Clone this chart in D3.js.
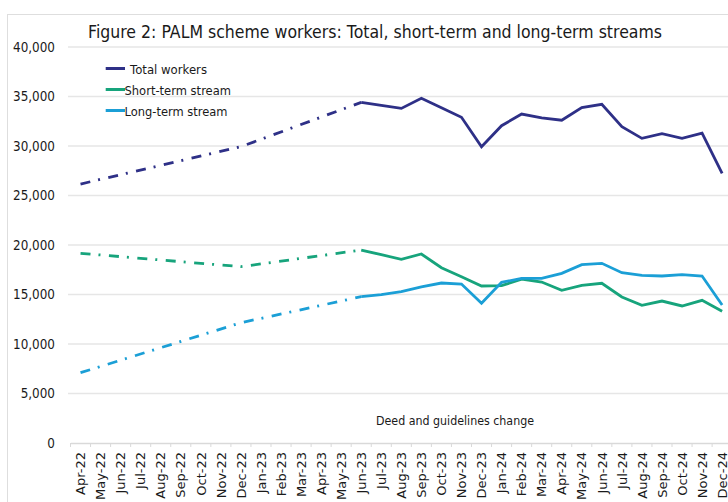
<!DOCTYPE html>
<html>
<head>
<meta charset="utf-8">
<script src="https://cdn.jsdelivr.net/npm/d3@7"></script>
<style>
  html, body { margin: 0; padding: 0; background: #ffffff; }
  svg { display: block; font-family: "DejaVu Sans", "Open Sans", sans-serif; }
</style>
</head>
<body>
<svg id="chart" width="728" height="502"></svg>
<script>
// ---------- data ----------
const months = ["Apr-22","May-22","Jun-22","Jul-22","Aug-22","Sep-22","Oct-22","Nov-22","Dec-22",
  "Jan-23","Feb-23","Mar-23","Apr-23","May-23","Jun-23","Jul-23","Aug-23","Sep-23","Oct-23",
  "Nov-23","Dec-23","Jan-24","Feb-24","Mar-24","Apr-24","May-24","Jun-24","Jul-24","Aug-24",
  "Sep-24","Oct-24","Nov-24","Dec-24"];

// Estimated period (Apr-22 .. Jun-23): only a few known points, joined by a dash-dot line
const totalEst = [26160, null, null, null, null, null, null, null, 29930,
  null, null, null, null, null, 34410];
const shortEst = [19160, null, null, null, null, null, null, null, 17810,
  null, null, null, null, null, 19490];
const longEst  = [7100, null, null, null, null, null, null, null, 12150,
  null, null, null, null, null, 14780];

// Monthly data (Jun-23 .. Dec-24)
const totalObs = [34410, 34100, 33800, 34820, 33860, 32900, 29930, 32050, 33230, 32830,
  32600, 33870, 34210, 31950, 30770, 31240, 30770, 31310, 27240];
const shortObs = [19490, 19020, 18550, 19090, 17710, 16800, 15860, 15890, 16560, 16260,
  15420, 15920, 16130, 14750, 13900, 14340, 13840, 14410, 13300];
const longObs  = [14780, 14980, 15280, 15760, 16160, 16060, 14110, 16230, 16630, 16630,
  17140, 18010, 18150, 17200, 16930, 16870, 17000, 16870, 13940];

const obsStart = 14; // index of Jun-23
const yTicks = [0, 5000, 10000, 15000, 20000, 25000, 30000, 35000, 40000];
const seriesNames = ["Total workers", "Short-term stream", "Long-term stream"];
const seriesColors = ["#2e3087", "#17a47c", "#1b9fd6"];
const titleText = "Figure 2: PALM scheme workers: Total, short-term and long-term streams";
const noteText = "Deed and guidelines change";

// ---------- layout ----------
const svg = d3.select("#chart");
const x = d3.scaleBand().domain(months).range([70.5, 70.5 + 33 * 20.05]).padding(0);
const xc = m => x(m) + x.bandwidth() / 2;
const y = d3.scaleLinear().domain([0, 40000]).range([443, 47]);

svg.append("rect").attr("width", 728).attr("height", 502).attr("fill", "#fff");
// chart border
svg.append("rect").attr("x", 7.5).attr("y", 14.5).attr("width", 760).attr("height", 520)
  .attr("fill", "none").attr("stroke", "#dedede").attr("stroke-width", 1);

// gridlines
svg.append("g").selectAll("line").data(yTicks.filter(d => d > 0)).join("line")
  .attr("x1", 68).attr("x2", 728)
  .attr("y1", d => y(d)).attr("y2", d => y(d))
  .attr("stroke", "#e6e6e6").attr("stroke-width", 1.5);

// y labels
const yl = svg.append("g").selectAll("text").data(yTicks).join("text")
  .attr("x", 55).attr("y", d => y(d)).attr("dy", "0.36em")
  .attr("text-anchor", "end").attr("font-size", 13.5).attr("fill", "#1a1a1a")
  .text(d => d3.format(",")(d));
const refW = yl.filter(d => d === 30000).node().getComputedTextLength();
const kY = 42 / refW;
yl.each(function() {
  const w = this.getComputedTextLength();
  d3.select(this).attr("textLength", w * kY).attr("lengthAdjust", "spacingAndGlyphs");
});

// x axis
const xAxis = d3.axisBottom(x).tickSize(0).tickFormat("");
const gx = svg.append("g").attr("transform", `translate(0,${y(0)})`).call(xAxis);
gx.select(".domain").attr("stroke", "#d9d9d9").attr("stroke-width", 1.5);
const bounds = months.map(m => x(m)).concat([x(months[months.length - 1]) + x.bandwidth()]);
gx.selectAll(".bt").data(bounds).join("line").attr("class", "bt")
  .attr("x1", d => d).attr("x2", d => d).attr("y1", 0).attr("y2", 4)
  .attr("stroke", "#d9d9d9").attr("stroke-width", 1);
svg.append("g").selectAll("text").data(months).join("text")
  .attr("transform", m => `translate(${xc(m)},452) rotate(-90)`)
  .attr("dy", "0.36em").attr("text-anchor", "end")
  .attr("font-size", 13).attr("fill", "#1a1a1a")
  .text(m => m);

// lines
const line = d3.line().x(d => xc(d.m)).y(d => y(d.v));
const estSeries = [totalEst, shortEst, longEst];
const obsSeries = [totalObs, shortObs, longObs];
estSeries.forEach((arr, i) => {
  const pts = arr.map((v, j) => ({ m: months[j], v })).filter(d => d.v !== null);
  svg.append("path").datum(pts).attr("d", line)
    .attr("fill", "none").attr("stroke", seriesColors[i]).attr("stroke-width", 2.8)
    .attr("stroke-dasharray", "10,8,2,8.5");
});
obsSeries.forEach((arr, i) => {
  const pts = arr.map((v, j) => ({ m: months[obsStart + j], v }));
  svg.append("path").datum(pts).attr("d", line)
    .attr("fill", "none").attr("stroke", seriesColors[i]).attr("stroke-width", 2.8)
    .attr("stroke-linejoin", "miter");
});

// title
svg.append("text").attr("x", 88).attr("y", 38).attr("font-size", 17).attr("fill", "#1a1a1a")
  .attr("textLength", 574).attr("lengthAdjust", "spacingAndGlyphs").text(titleText);

// legend
const legY = [69, 90, 111];
const legTextX = [130, 124.5, 124.5];
const legTextW = [77, 106.5, 103];
seriesNames.forEach((name, i) => {
  svg.append("line").attr("x1", 105.7).attr("x2", 125).attr("y1", legY[i] - 0.5).attr("y2", legY[i] - 0.5)
    .attr("stroke", seriesColors[i]).attr("stroke-width", 3);
  svg.append("text").attr("x", legTextX[i]).attr("y", legY[i]).attr("dy", "0.36em")
    .attr("font-size", 12.5).attr("fill", "#1a1a1a")
    .attr("textLength", legTextW[i]).attr("lengthAdjust", "spacingAndGlyphs").text(name);
});

// annotation
svg.append("text").attr("x", 376).attr("y", 425).attr("font-size", 12).attr("fill", "#1a1a1a")
  .attr("textLength", 158).attr("lengthAdjust", "spacingAndGlyphs").text(noteText);
</script>
</body>
</html>
